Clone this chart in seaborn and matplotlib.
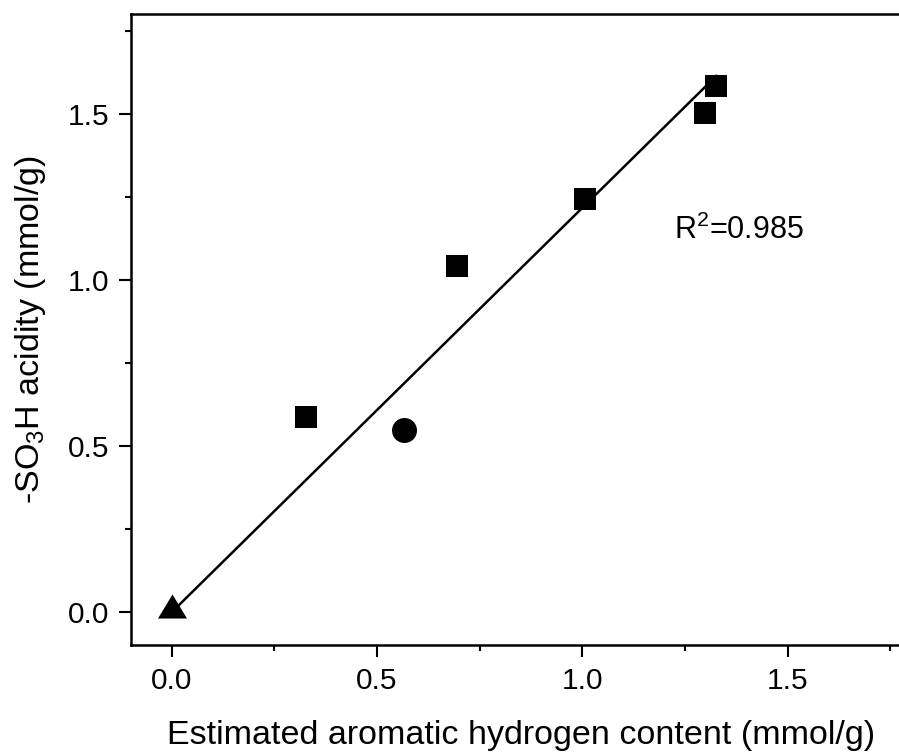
import numpy as np
import pandas as pd
import matplotlib
matplotlib.use("Agg")
import matplotlib.pyplot as plt
import seaborn as sns
from matplotlib.ticker import MultipleLocator, FormatStrFormatter

# values
square_x = [0.327, 0.694, 1.006, 1.298, 1.327]
square_y = [0.589, 1.043, 1.244, 1.502, 1.584]
circle_x = [0.565]
circle_y = [0.547]
triangle_x = [0.0]
triangle_y = [0.02]
r2_label = "R$^2$=0.985"

sns.set_theme(style="ticks")
plt.rcParams['font.family'] = ['Liberation Sans', 'DejaVu Sans']
plt.rcParams['mathtext.fontset'] = 'custom'
plt.rcParams['mathtext.rm'] = 'Liberation Sans'
plt.rcParams['mathtext.it'] = 'Liberation Sans:italic'
for key in ['text.color', 'axes.labelcolor', 'xtick.color', 'ytick.color',
            'axes.edgecolor']:
    plt.rcParams[key] = 'black'

squares = pd.DataFrame({'x': square_x, 'y': square_y})
circles = pd.DataFrame({'x': circle_x, 'y': circle_y})
triangles = pd.DataFrame({'x': triangle_x, 'y': triangle_y})

# linear fit through the origin over all samples
all_x = np.array(square_x + circle_x + triangle_x)
all_y = np.array(square_y + circle_y + triangle_y)
slope = np.sum(all_x * all_y) / np.sum(all_x ** 2)
fit = pd.DataFrame({'x': [0.0, all_x.max()]})
fit['y'] = slope * fit['x']

fig = plt.figure(figsize=(8.99, 7.53), dpi=100)
ax = fig.add_axes([0.1453, 0.1428, 0.8677, 0.8385])

sns.lineplot(data=fit, x='x', y='y', color='black', linewidth=1.8, ax=ax, zorder=2)
sns.scatterplot(data=squares, x='x', y='y', marker='s', s=244, color='black',
                linewidth=0, ax=ax, zorder=3)
sns.scatterplot(data=circles, x='x', y='y', marker='o', s=324, color='black',
                linewidth=0, ax=ax, zorder=3)
tri = [(-1, -0.83), (1, -0.83), (0, 0.83)]
sns.scatterplot(data=triangles, x='x', y='y', marker=tri, s=436, color='black',
                linewidth=0, ax=ax, zorder=3)

ax.text(1.223, 1.123, r2_label, fontsize=22, ha='left', va='baseline')

ax.set_xlim(-0.1, 1.8)
ax.set_ylim(-0.1, 1.8)
ax.xaxis.set_major_locator(MultipleLocator(0.5))
ax.xaxis.set_minor_locator(MultipleLocator(0.25))
ax.yaxis.set_major_locator(MultipleLocator(0.5))
ax.yaxis.set_minor_locator(MultipleLocator(0.25))
ax.xaxis.set_major_formatter(FormatStrFormatter('%.1f'))
ax.yaxis.set_major_formatter(FormatStrFormatter('%.1f'))

ax.tick_params(which='major', direction='out', length=8.5, width=1.5,
               labelsize=21.5, pad=7)
ax.tick_params(which='minor', direction='out', length=4.5, width=1.5)
for side in ['left', 'bottom', 'top']:
    ax.spines[side].set_linewidth(1.8)
ax.spines['right'].set_visible(False)

ax.set_xlabel('Estimated aromatic hydrogen content (mmol/g)', fontsize=24.5, labelpad=18)
ax.set_ylabel('-SO$_3$H acidity (mmol/g)', fontsize=24.5, labelpad=14)

fig.savefig('out.png', dpi=100)
